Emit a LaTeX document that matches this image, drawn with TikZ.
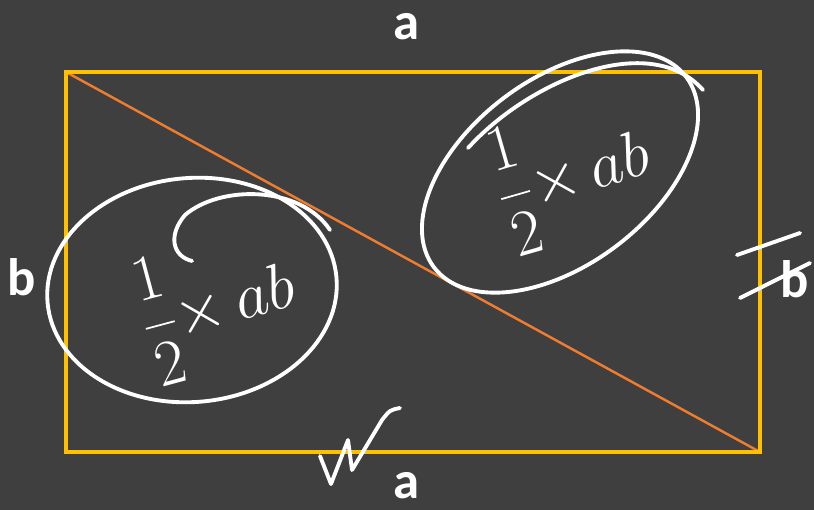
\RequirePackage{fix-cm}
\documentclass[tikz,border=0pt]{standalone}
\usepackage{amsmath}
\usepackage{fontspec}
\setmainfont{Carlito}
\usepackage{tikz}
\usetikzlibrary{calc,positioning}

\definecolor{boardgray}{HTML}{3F3F3F}
\definecolor{rectgold}{HTML}{FFC000}
\definecolor{diagorange}{HTML}{ED7D31}

\tikzset{
  side/.style={text=white,font=\fontsize{30}{34}\selectfont\bfseries},
  chalk/.style={draw=white,line width=2.2pt,line cap=round,line join=round},
  half/.style={text=white,font=\fontsize{37}{40}\selectfont,inner sep=0pt}
}

\begin{document}
\begin{tikzpicture}[x=0.02cm,y=-0.02cm]
  \fill[boardgray] (0,0) rectangle (814,510);
  \useasboundingbox (0,0) rectangle (814,510);
  % rectangle and its diagonal
  \coordinate (tl) at (66,72);
  \coordinate (br) at (760,452);
  \draw[diagorange,line width=1.4pt] (tl) -- (br);
  \draw[rectgold,line width=2.8pt] (tl) rectangle (br);
  % side labels
  \node[side] (atop) at (407,27) {a};
  \node[side] (abot) at (407,486) {a};
  \node[side] (bleft) at (22,277) {b};
  \node[side] (bright) at (795,279) {b};
  % left half
  \draw[chalk] (192,290) ellipse[x radius=145,y radius=112,rotate=5];
  \draw[chalk] (192,261) .. controls (172,256) and (168,235) .. (185,215)
    .. controls (220,185) and (300,185) .. (330,230);
  \node[half,rotate=15] (lhalf) at (218,305) {$\dfrac{1}{2}{\times}\,ab$};
  % right half
  \draw[chalk] (560,172) ellipse[x radius=158,y radius=93,rotate=37];
  \draw[chalk] (468,148) .. controls (530,80) and (650,30) .. (703,90);
  \node[half,rotate=16] (rhalf) at (573,174) {$\dfrac{1}{2}{\times}\,ab$};
  % marks
  \draw[chalk] (320,456) -- (331,484) -- (348,440) -- (352,470) -- (382,420) .. controls (390,410) .. (400,408);
  \draw[chalk] (737,255) -- (800,233);
  \draw[chalk] (740,298) -- (810,263);
\end{tikzpicture}
\end{document}
